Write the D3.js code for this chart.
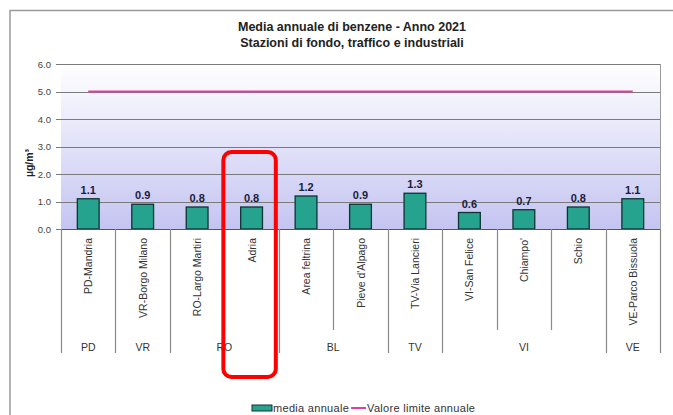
<!DOCTYPE html>
<html><head><meta charset="utf-8">
<script src="https://cdn.jsdelivr.net/npm/d3@7/dist/d3.min.js"></script>
<style>body{margin:0;background:#fff}svg{display:block}text{font-family:Arial,"Liberation Sans",sans-serif}</style>
</head><body>
<script>
const stations = ["PD-Mandria","VR-Borgo Milano","RO-Largo Martiri","Adria","Area feltrina","Pieve d'Alpago","TV-Via Lancieri","VI-San Felice","Chiampo'","Schio","VE-Parco Bissuola"];
const provinces = ["PD","VR","RO","RO","BL","BL","TV","VI","VI","VI","VE"];
const mediaAnnuale = [1.1,0.9,0.8,0.8,1.2,0.9,1.3,0.6,0.7,0.8,1.1];
const valoreLimite = [5,5,5,5,5,5,5,5,5,5,5];
const yTicks = [0,1,2,3,4,5,6];
const titleLines = ["Media annuale di benzene - Anno 2021","Stazioni di fondo, traffico e industriali"];
const highlighted = "Adria";

(function(){
const W=673,H=415;
const svg=d3.select("body").append("svg").attr("width",W).attr("height",H);
const pL=61,pR=660,pT=64,pB=229;
const x=d3.scaleBand().domain(stations).range([pL,pR]);
const y=d3.scaleLinear().domain([0,6]).range([pB,pT]);

// outer frame
svg.append("path").attr("d",`M10,${H}V10.5H${W}`).attr("fill","none").attr("stroke","#9a9a9a").attr("stroke-width",1.5);

// gradient
const defs=svg.append("defs");
const g=defs.append("linearGradient").attr("id","bg").attr("x1",0).attr("y1",0).attr("x2",0).attr("y2",1);
g.append("stop").attr("offset","0%").attr("stop-color","#ffffff");
g.append("stop").attr("offset","100%").attr("stop-color","#c4c4f2");
svg.append("rect").attr("x",pL).attr("y",pT).attr("width",pR-pL).attr("height",pB-pT).attr("fill","url(#bg)");

// grid
svg.append("g").selectAll("line").data(yTicks).join("line")
  .attr("x1",pL-5).attr("x2",pR).attr("y1",d=>Math.round(y(d))+.5).attr("y2",d=>Math.round(y(d))+.5)
  .attr("stroke","#7a7a7a").attr("stroke-width",1);
svg.append("line").attr("x1",pR+.5).attr("x2",pR+.5).attr("y1",pT).attr("y2",pB).attr("stroke","#9a9a9a");

// y axis
const ya=d3.axisLeft(y).tickValues(yTicks).tickFormat(d3.format(".1f")).tickSize(0).tickPadding(10);
const yg=svg.append("g").attr("transform",`translate(${pL},0)`).call(ya);
yg.select(".domain").remove();
yg.selectAll("text").attr("font-size",9.5).attr("fill","#444");
svg.append("text").attr("transform",`translate(33,${y(2.4)}) rotate(-90)`).attr("text-anchor","middle")
  .attr("font-size",10.5).attr("font-weight","bold").attr("fill","#222").text("µg/m³");

// bars
const bw=x.bandwidth()*0.4;
svg.append("g").selectAll("rect").data(stations).join("rect")
  .attr("x",d=>x(d)+(x.bandwidth()-bw)/2).attr("width",bw)
  .attr("y",(d,i)=>y(mediaAnnuale[i])).attr("height",(d,i)=>y(0)-y(mediaAnnuale[i]))
  .attr("fill","#26a38f").attr("stroke","#103232").attr("stroke-width",1.3);
svg.append("g").selectAll("text").data(stations).join("text")
  .attr("x",d=>x(d)+x.bandwidth()/2).attr("y",(d,i)=>y(mediaAnnuale[i])-5)
  .attr("text-anchor","middle").attr("font-size",11).attr("font-weight","bold").attr("fill","#1c1c3c")
  .text((d,i)=>d3.format(".1f")(mediaAnnuale[i]));

// limit line
const line=d3.line().x(d=>x(d[0])+x.bandwidth()/2).y(d=>y(d[1]));
svg.append("path").datum(stations.map((s,i)=>[s,valoreLimite[i]])).attr("d",line)
  .attr("fill","none").attr("stroke","#e0409c").attr("stroke-width",2.2);

// category axis
const axisCol="#8a8a8a";
const groupEnd=pB+124, stEnd=pB+101;
svg.append("line").attr("x1",pL).attr("x2",pR).attr("y1",pB+.5).attr("y2",pB+.5).attr("stroke","#555");
const bounds=[];
stations.forEach((s,i)=>{ bounds.push({x:x(s),grp:(i===0||provinces[i]!==provinces[i-1])}); });
bounds.push({x:pR,grp:true});
svg.append("g").selectAll("line").data(bounds).join("line")
  .attr("x1",d=>Math.round(d.x)+.5).attr("x2",d=>Math.round(d.x)+.5)
  .attr("y1",pB).attr("y2",d=>d.grp?groupEnd:stEnd).attr("stroke",axisCol).attr("stroke-width",1.2);
svg.append("g").selectAll("text").data(stations).join("text")
  .attr("transform",d=>`translate(${x(d)+x.bandwidth()/2+4},${pB+9}) rotate(-90)`)
  .attr("text-anchor","end").attr("font-size",10.5).attr("fill","#333").text(d=>d);
const groups=[];
stations.forEach((s,i)=>{ if(i===0||provinces[i]!==provinces[i-1]) groups.push({p:provinces[i],a:x(s),b:x(s)+x.bandwidth()}); else groups[groups.length-1].b=x(s)+x.bandwidth(); });
svg.append("g").selectAll("text").data(groups).join("text")
  .attr("x",d=>(d.a+d.b)/2).attr("y",pB+122).attr("text-anchor","middle").attr("font-size",10.5).attr("fill","#333").text(d=>d.p);

// title
svg.append("g").selectAll("text").data(titleLines).join("text")
  .attr("x",352).attr("y",(d,i)=>31+i*16).attr("text-anchor","middle").attr("font-size",12.5).attr("font-weight","bold").attr("fill","#222").text(d=>d);

// legend
const lg=svg.append("g").attr("transform","translate(252,409)");
lg.append("rect").attr("x",0).attr("y",-4).attr("width",20).attr("height",6).attr("fill","#26a38f").attr("stroke","#103232");
const t1=lg.append("text").attr("x",21).attr("y",3).attr("font-size",11).attr("letter-spacing",0.3).attr("fill","#333").text("media annuale");
const l1=21+t1.node().getComputedTextLength()+2;
lg.append("line").attr("x1",l1).attr("x2",l1+15).attr("y1",-1).attr("y2",-1).attr("stroke","#e0409c").attr("stroke-width",2);
lg.append("text").attr("x",l1+16).attr("y",3).attr("font-size",11).attr("letter-spacing",0.3).attr("fill","#333").text("Valore limite annuale");

// highlight annotation
const hx=x(highlighted);
svg.append("rect").attr("x",hx-1).attr("y",y(2.8)).attr("width",x.bandwidth()-2).attr("height",377-y(2.8))
  .attr("rx",8).attr("fill","none").attr("stroke","#ff0000").attr("stroke-width",4);
})();
</script>
</body></html>
